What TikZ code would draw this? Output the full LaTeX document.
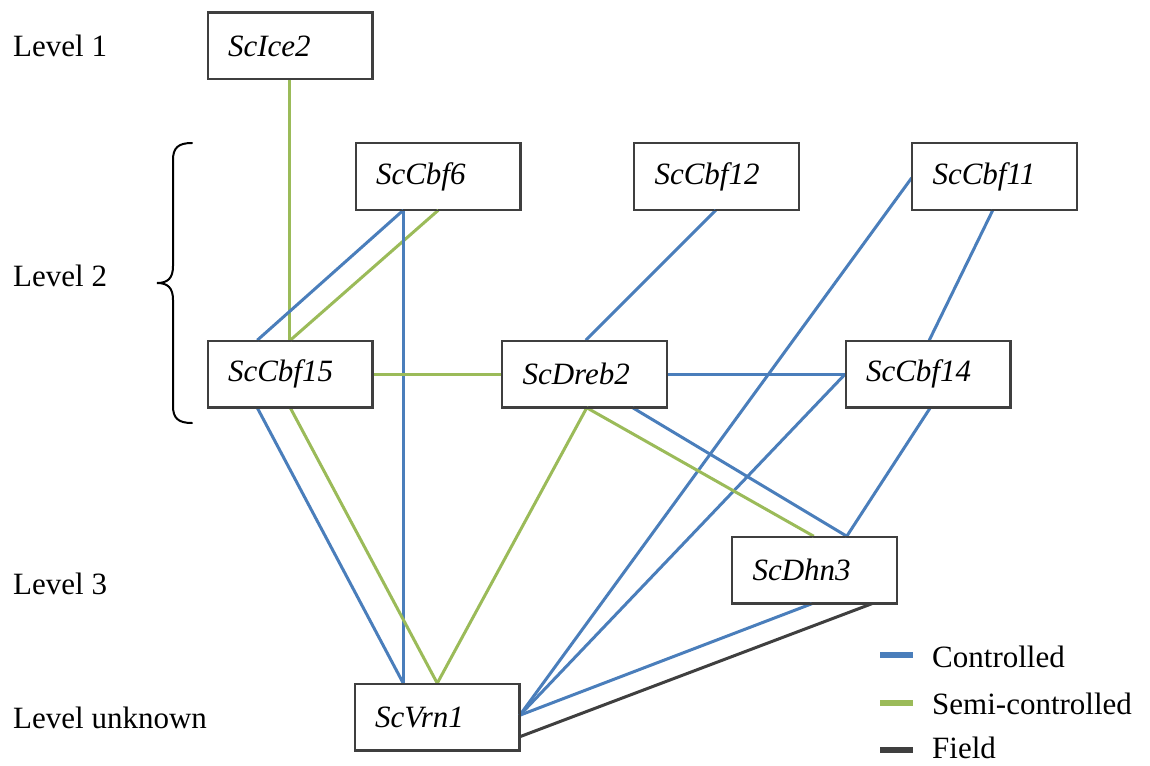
\documentclass[tikz,border=0pt]{standalone}
\usepackage{fontspec}
\setmainfont{Liberation Serif}
\definecolor{cblue}{HTML}{4A7EBB}
\definecolor{cgreen}{HTML}{9BBB59}
\definecolor{cdark}{HTML}{3F3F3F}
\begin{document}
\begin{tikzpicture}[x=1pt,y=-1pt,
  every node/.style={font=\fontsize{31}{36}\selectfont},
  gene/.style={draw=cdark, line width=1.5pt, fill=white, minimum height=66pt,
    text width=124pt, inner xsep=20pt, inner ysep=0pt, align=left,
    font=\fontsize{31}{36}\selectfont\itshape},
  lvl/.style={anchor=west, inner sep=0pt},
  legtext/.style={anchor=base west, inner sep=0pt, text depth=0pt},
  ctrl/.style={draw=cblue, line width=3pt},
  semi/.style={draw=cgreen, line width=3pt},
  field/.style={draw=cdark, line width=3pt},
  legline/.style={line width=6pt}]
\useasboundingbox (0,0) rectangle (1150,765);

% level labels
\node[lvl] (l1) at (13,46) {Level 1};
\node[lvl] (l2) at (13,276) {Level 2};
\node[lvl] (l3) at (13,584) {Level 3};
\node[lvl] (lu) at (13,718) {Level unknown};

% brace
\draw[line width=2pt, line cap=round] (192,143) .. controls (178,143) and (173,148) .. (173,160)
  -- (173,266) .. controls (173,278) and (168,283) .. (157,283)
  .. controls (168,283) and (173,288) .. (173,300)
  -- (173,406) .. controls (173,418) and (178,423) .. (192,423);

\node[gene] (ice2) at (290,46) {ScIce2};
\node[gene] (cbf6) at (438,176.5) {ScCbf6};
\node[gene] (cbf12) at (716.5,176.5) {ScCbf12};
\node[gene] (cbf11) at (994.5,176.5) {ScCbf11};
\node[gene] (cbf15) at (290,374) {ScCbf15};
\node[gene] (dreb2) at (584.5,374) {ScDreb2};
\node[gene] (cbf14) at (928,374) {ScCbf14};
\node[gene] (dhn3) at (814.5,570) {ScDhn3};
\node[gene] (vrn1) at (437,717) {ScVrn1};

% edges
\draw[semi] ([xshift=82pt]ice2.south west) -- ([xshift=82pt]cbf15.north west);
\draw[ctrl] ([xshift=48pt]cbf6.south west) -- ([xshift=50pt]cbf15.north west);
\draw[semi] ([xshift=83pt]cbf6.south west) -- ([xshift=83pt]cbf15.north west);
\draw[ctrl] ([xshift=48pt]cbf6.south west) -- ([xshift=49pt]vrn1.north west);
\draw[semi] (cbf15.east) -- (dreb2.west);
\draw[ctrl] ([xshift=50pt]cbf15.south west) -- ([xshift=49pt]vrn1.north west);
\draw[semi] ([xshift=83pt]cbf15.south west) -- ([xshift=83pt]vrn1.north west);
\draw[ctrl] ([xshift=82pt]cbf12.south west) -- ([xshift=84pt]dreb2.north west);
\draw[ctrl] ([yshift=-35pt]cbf11.north west) -- ([yshift=-32pt]vrn1.north east);
\draw[ctrl] ([xshift=81pt]cbf11.south west) -- ([xshift=84pt]cbf14.north west);
\draw[ctrl] (dreb2.east) -- (cbf14.west);
\draw[ctrl] (cbf14.west) -- ([yshift=-32pt]vrn1.north east);
\draw[ctrl] ([xshift=85pt]cbf14.south west) -- ([xshift=115pt]dhn3.north west);
\draw[semi] ([xshift=85pt]dreb2.south west) -- ([xshift=83pt]vrn1.north west);
\draw[semi] ([xshift=85pt]dreb2.south west) -- ([xshift=82pt]dhn3.north west);
\draw[ctrl] ([xshift=131pt]dreb2.south west) -- ([xshift=115pt]dhn3.north west);
\draw[ctrl] ([xshift=80pt]dhn3.south west) -- ([yshift=-32pt]vrn1.north east);
\draw[field] ([xshift=140pt]dhn3.south west) -- ([yshift=14pt]vrn1.south east);

% redraw box borders on top
\foreach \n in {ice2,cbf6,cbf12,cbf11,cbf15,dreb2,cbf14,dhn3,vrn1}
  \draw[draw=cdark, line width=1.5pt] (\n.north west) rectangle (\n.south east);

% legend
\coordinate (a1) at (880,655); \coordinate (b1) at (913,655);
\coordinate (a2) at (880,703); \coordinate (b2) at (913,703);
\coordinate (a3) at (880,750); \coordinate (b3) at (913,750);
\draw[legline, cblue] (a1) -- (b1);
\draw[legline, cgreen] (a2) -- (b2);
\draw[legline, cdark] (a3) -- (b3);
\node[legtext] (t1) at (932,667) {Controlled};
\node[legtext] (t2) at (932,714) {Semi-controlled};
\node[legtext] (t3) at (932,758) {Field};
\end{tikzpicture}
\end{document}
